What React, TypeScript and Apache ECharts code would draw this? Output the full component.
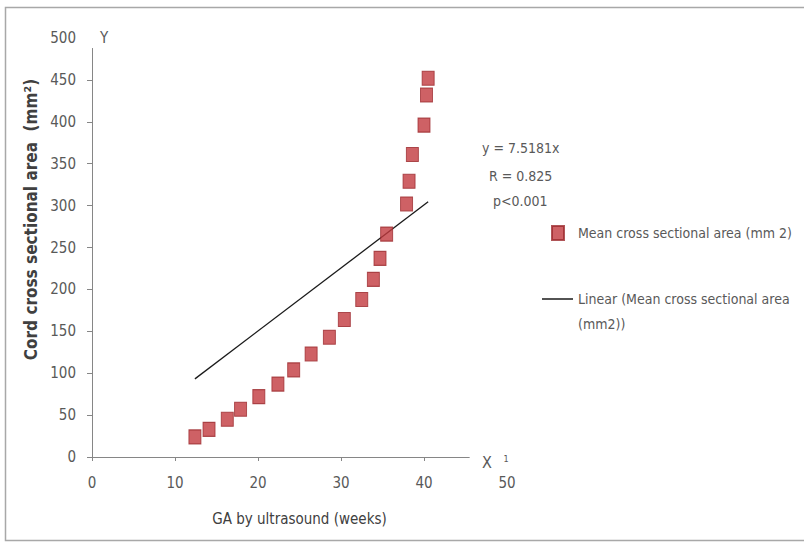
import React, { useEffect, useRef } from "react";
import * as echarts from "echarts";

const gaWeeks = [12.4, 14.1, 16.3, 17.9, 20.1, 22.4, 24.3, 26.4, 28.6, 30.4, 32.5, 33.9, 34.7, 35.5, 37.9, 38.2, 38.6, 40.0, 40.3, 40.5];
const meanArea = [24, 33, 45, 57, 72, 87, 104, 123, 143, 164, 188, 212, 237, 266, 302, 329, 361, 396, 432, 452];
const trendSlope = 7.5181;
const trendX = [12.4, 40.5];
const xAxisEnd = 45.5;
const yAxisEnd = 488;
const xTickValues = [0, 10, 20, 30, 40];
const yTickValues = [0, 50, 100, 150, 200, 250, 300, 350, 400, 450];
const xRange = { min: 0, max: 50, interval: 10 };
const yRange = { min: 0, max: 500, interval: 50 };
const statLines = ["y = 7.5181x", "R = 0.825", "p<0.001"];
const scatterName = "Mean cross sectional area (mm 2)";
const trendName = "Linear (Mean cross sectional area (mm2))";

const FONT = "'DejaVu Sans Condensed', 'DejaVu Sans', sans-serif";
const TXT = "#595959";
const AX = "#868686";

export default function App() {
  const ref = useRef<HTMLDivElement>(null);
  useEffect(() => {
    if (!ref.current) return;
    const chart = echarts.init(ref.current, null, { renderer: "svg" });
    const points = gaWeeks.map((x, i) => [x, meanArea[i]]);
    const trend = trendX.map((x) => [x, +(trendSlope * x).toFixed(2)]);
    chart.setOption({
      animation: false,
      backgroundColor: "#ffffff",
      textStyle: { fontFamily: FONT },
      grid: { left: 92, right: 297, top: 38, bottom: 90, containLabel: false },
      xAxis: {
        type: "value",
        min: xRange.min,
        max: xRange.max,
        interval: xRange.interval,
        splitLine: { show: false },
        axisLine: { show: false },
        axisTick: { show: true, length: 4, customValues: xTickValues, lineStyle: { color: AX } },
        axisLabel: { color: TXT, fontSize: 15, margin: 18, fontFamily: FONT },
        name: "GA by ultrasound (weeks)",
        nameLocation: "middle",
        nameGap: 54,
        nameTextStyle: { color: "#404040", fontSize: 15, fontFamily: FONT },
      },
      yAxis: {
        type: "value",
        min: yRange.min,
        max: yRange.max,
        interval: yRange.interval,
        splitLine: { show: false },
        axisLine: { show: false },
        axisTick: { show: true, length: 5, customValues: yTickValues, lineStyle: { color: AX } },
        axisLabel: { color: TXT, fontSize: 15, margin: 16, fontFamily: FONT },
        name: "Cord cross sectional area  (mm²)",
        nameLocation: "middle",
        nameGap: 46,
        nameTextStyle: { color: "#404040", fontSize: 17, fontWeight: "bold", fontFamily: FONT, padding: [0, 0, 0, 56] },
      },
      legend: [
        {
          data: [scatterName],
          orient: "vertical",
          left: 546,
          top: 220,
          itemWidth: 12,
          itemHeight: 14,
          itemGap: 8,
          textStyle: { color: TXT, fontSize: 14, fontFamily: FONT, padding: [0, 0, 0, 9] },
        },
        {
          data: [{ name: trendName, icon: "rect" }],
          orient: "vertical",
          left: 537,
          top: 287,
          itemWidth: 31,
          itemHeight: 1.5,
          itemGap: 2,
          formatter: () => "Linear (Mean cross sectional area",
          textStyle: { color: TXT, fontSize: 14, fontFamily: FONT },
        },
      ],
      series: [
        {
          name: scatterName,
          type: "scatter",
          data: points,
          symbol: "rect",
          symbolSize: [12, 14],
          itemStyle: { color: "#C23A3E", borderColor: "#9C2A2E", borderWidth: 1 },
          z: 3,
        },
        {
          name: trendName,
          type: "line",
          data: trend,
          showSymbol: false,
          symbol: "none",
          lineStyle: { color: "#1a1a1a", width: 1.3 },
          itemStyle: { color: "#1a1a1a" },
          z: 2,
          markLine: {
            silent: true,
            symbol: "none",
            label: { show: false },
            lineStyle: { color: AX, width: 1, type: "solid" },
            data: [
              [{ coord: [0, 0] }, { coord: [xAxisEnd, 0] }],
              [{ coord: [0, 0] }, { coord: [0, yAxisEnd] }],
            ],
          },
        },
      ],
      graphic: [
        {
          type: "rect",
          shape: { x: 5.5, y: 7.5, width: 820, height: 533 },
          style: { fill: "none", stroke: "#a8a8a8", lineWidth: 1.5 },
          silent: true,
        },
        ...statLines.map((t, i) => ({
          type: "text",
          x: [482, 489, 493][i],
          y: [148, 176, 201][i],
          style: { text: t, fill: TXT, font: `14px ${FONT}`, verticalAlign: "middle" },
        })),
        {
          type: "text",
          x: 578,
          y: 324,
          style: { text: "(mm2))", fill: TXT, font: `14px ${FONT}`, verticalAlign: "middle" },
        },
        {
          type: "text",
          x: 104,
          y: 38,
          style: { text: "Y", fill: TXT, font: `15px ${FONT}`, align: "center", verticalAlign: "middle" },
        },
        {
          type: "text",
          x: 487,
          y: 462,
          style: { text: "X", fill: TXT, font: `16px ${FONT}`, align: "center", verticalAlign: "middle" },
        },
        {
          type: "text",
          x: 506,
          y: 459,
          style: { text: "1", fill: TXT, font: `9px ${FONT}`, align: "center", verticalAlign: "middle" },
        },
      ],
    });
    return () => chart.dispose();
  }, []);
  return <div ref={ref} style={{ position: "fixed", left: 0, top: 0, width: 804, height: 547 }} />;
}
